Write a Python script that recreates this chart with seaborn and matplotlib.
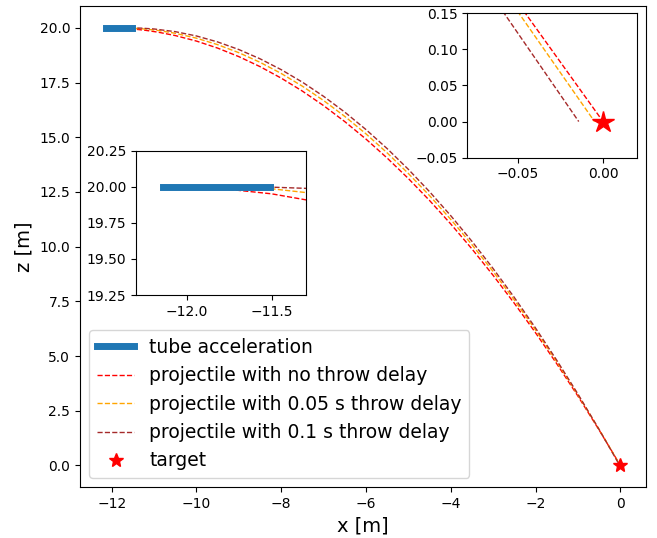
import matplotlib
matplotlib.use('Agg')
import matplotlib.pyplot as plt
import seaborn as sns

# tube acceleration segment
tube_x = [-12.14, -11.51]
tube_z = [20.0, 20.0]

# projectile with no throw delay
red_x = [-12.1, -11.8, -11.5, -11.2, -10.9, -10.5, -10.0, -9.5, -9.0, -8.5, -8.0,
         -7.5, -7.0, -6.5, -6.0, -5.5, -5.0, -4.5, -4.0, -3.5, -3.0, -2.5, -2.0,
         -1.5, -1.0, -0.5, -0.2, 0.0]
red_z = [20.0, 19.988, 19.951, 19.889, 19.803, 19.650, 19.398, 19.077, 18.687, 18.230, 17.704,
         17.110, 16.447, 15.716, 14.917, 14.050, 13.114, 12.110, 11.038, 9.897, 8.688, 7.411, 6.065,
         4.652, 3.170, 1.619, 0.656, 0.0]

# projectile with 0.05 s throw delay
orange_x = [-11.81, -11.5, -11.2, -10.9, -10.5, -10.0, -9.5, -9.0, -8.5, -8.0,
            -7.5, -7.0, -6.5, -6.0, -5.5, -5.0, -4.5, -4.0, -3.5, -3.0, -2.5, -2.0,
            -1.5, -1.0, -0.5, -0.2, -0.005]
orange_z = [20.0, 19.986, 19.947, 19.881, 19.754, 19.530, 19.234, 18.867, 18.428, 17.917,
            17.334, 16.680, 15.954, 15.156, 14.286, 13.345, 12.332, 11.247, 10.090, 8.862, 7.562, 6.190,
            4.747, 3.231, 1.644, 0.657, 0.0]

# projectile with 0.1 s throw delay
brown_x = [-11.57, -11.3, -11.0, -10.5, -10.0, -9.5, -9.0, -8.5, -8.0,
           -7.5, -7.0, -6.5, -6.0, -5.5, -5.0, -4.5, -4.0, -3.5, -3.0, -2.5, -2.0,
           -1.5, -1.0, -0.5, -0.2, -0.0143]
brown_z = [20.0, 19.989, 19.951, 19.829, 19.631, 19.358, 19.011, 18.588, 18.091,
           17.519, 16.871, 16.149, 15.352, 14.481, 13.534, 12.512, 11.416, 10.244, 8.998, 7.677, 6.281,
           4.810, 3.264, 1.643, 0.634, 0.0]

target_x = [0.0]
target_z = [0.0]


def draw_all(ax, star_size, legend):
    sns.lineplot(x=tube_x, y=tube_z, ax=ax, color='C0', linewidth=5, zorder=3,
                 label='tube acceleration' if legend else None, legend=False)
    sns.lineplot(x=red_x, y=red_z, ax=ax, color='red', linestyle='--', linewidth=1,
                 sort=False, label='projectile with no throw delay' if legend else None, legend=False)
    sns.lineplot(x=orange_x, y=orange_z, ax=ax, color='orange', linestyle='--', linewidth=1,
                 sort=False, label='projectile with 0.05 s throw delay' if legend else None, legend=False)
    sns.lineplot(x=brown_x, y=brown_z, ax=ax, color='brown', linestyle='--', linewidth=1,
                 sort=False, label='projectile with 0.1 s throw delay' if legend else None, legend=False)
    ax.plot(target_x, target_z, linestyle='none', marker='*', color='red',
            markersize=star_size, label='target' if legend else None)


fig = plt.figure(figsize=(6.57, 5.38), dpi=100)
ax = fig.add_axes([0.1218, 0.0942, 0.8615, 0.8946])
draw_all(ax, 10, True)
ax.set_xlabel('x [m]', fontsize=14)
ax.set_ylabel('z [m]', fontsize=14)
ax.set_xticks([-12, -10, -8, -6, -4, -2, 0])
ax.set_yticks([0, 2.5, 5, 7.5, 10, 12.5, 15, 17.5, 20])
ax.legend(loc='lower left', fontsize=13.5)

# inset near the target
ins1 = ax.inset_axes([0.684, 0.685, 0.3, 0.3])
draw_all(ins1, 16, False)
ins1.set_xlim(-0.08, 0.02)
ins1.set_ylim(-0.05, 0.15)
ins1.set_xticks([-0.05, 0.0])
ins1.set_yticks([-0.05, 0.0, 0.05, 0.10, 0.15])

# inset at the tube exit
ins2 = ax.inset_axes([0.0985, 0.3995, 0.3, 0.3])
draw_all(ins2, 16, False)
ins2.set_xlim(-12.3, -11.3)
ins2.set_ylim(19.25, 20.25)
ins2.set_xticks([-12.0, -11.5])
ins2.set_yticks([19.25, 19.5, 19.75, 20.0, 20.25])

plt.savefig('out.png', dpi=100)
plt.close()
